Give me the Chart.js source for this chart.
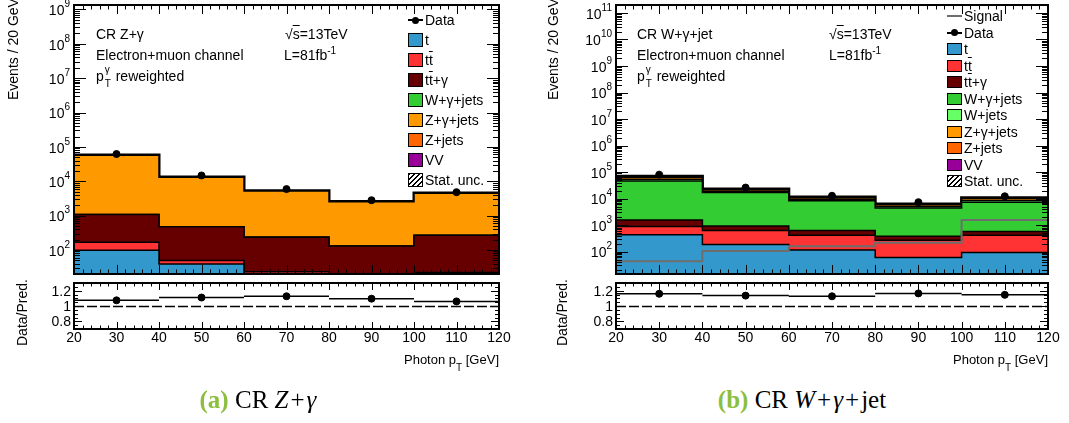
<!DOCTYPE html>
<html>
<head>
<meta charset="utf-8">
<title>CR Z+γ and CR W+γ+jet</title>
<script src="https://cdn.jsdelivr.net/npm/chart.js@4.4.1/dist/chart.umd.min.js"></script>
<style>
  body { margin: 0; background: #fff; }
  #page { position: relative; width: 1069px; height: 423px; overflow: hidden; font-family: "Liberation Sans", Arial, sans-serif; color: #000; }
  canvas { position: absolute; }
  .txt { position: absolute; font-size: 14px; line-height: 16px; white-space: nowrap; }
  .ob { text-decoration: overline; }
  .sup { font-size: 10px; position: relative; top: -6px; }
  .ptg { position: relative; display: inline-block; width: 8px; height: 1px; }
  .ptg .g { position: absolute; left: 1px; top: -15px; font-size: 10px; line-height: 10px; }
  .ptg .T { position: absolute; left: 1px; top: -1px; font-size: 10px; line-height: 10px; }
  .sub { font-size: 10px; position: relative; top: 7px; }
  .vtitle { position: absolute; width: 16px; height: 150px; writing-mode: vertical-rl; transform: rotate(180deg); font-size: 14px; line-height: 16px; white-space: nowrap; }
  .sw { position: absolute; box-sizing: border-box; border: 1.5px solid #000; }
  .caption { position: absolute; width: 300px; text-align: center; font-family: "Liberation Serif", "DejaVu Serif", serif; font-size: 25px; line-height: 28px; white-space: nowrap; }
  .caption b { color: #8cbe3f; }
  .caption .op { margin: 0 2px; }
</style>
</head>
<body>
<div id="page">
  <canvas id="zgMain" width="540" height="279" style="left:0;top:0"></canvas>
  <canvas id="zgRatio" width="540" height="95" style="left:0;top:278px"></canvas>
  <canvas id="wgMain" width="529" height="279" style="left:540px;top:0"></canvas>
  <canvas id="wgRatio" width="529" height="95" style="left:540px;top:278px"></canvas>

  <!-- panel (a) texts -->
  <div class="vtitle" style="left:5px;top:-50px">Events / 20 GeV</div>
  <div class="vtitle" style="left:14px;top:196px">Data/Pred.</div>
  <div class="txt" style="left:96px;top:26px">CR Z+γ</div>
  <div class="txt" style="left:96px;top:47px">Electron+muon channel</div>
  <div class="txt" style="left:96px;top:68px">p<span class="ptg"><span class="g">γ</span><span class="T">T</span></span> reweighted</div>
  <div class="txt" style="left:285px;top:26px">√<span class="ob">s</span>=13TeV</div>
  <div class="txt" style="left:284px;top:47px">L=81fb<span class="sup">-1</span></div>
  <div class="txt" style="right:570px;top:352px;font-size:13px">Photon p<span class="sub">T</span> [GeV]</div>
  <div class="caption" style="left:108px;top:386px"><b>(a)</b> CR <i>Z</i><span class="op">+</span><i>γ</i></div>

  <!-- panel (b) texts -->
  <div class="vtitle" style="left:545px;top:-50px">Events / 20 GeV</div>
  <div class="vtitle" style="left:554px;top:196px">Data/Pred.</div>
  <div class="txt" style="left:637px;top:26px">CR W+γ+jet</div>
  <div class="txt" style="left:637px;top:47px">Electron+muon channel</div>
  <div class="txt" style="left:637px;top:68px">p<span class="ptg"><span class="g">γ</span><span class="T">T</span></span> reweighted</div>
  <div class="txt" style="left:829px;top:26px">√<span class="ob">s</span>=13TeV</div>
  <div class="txt" style="left:829px;top:47px">L=81fb<span class="sup">-1</span></div>
  <div class="txt" style="right:21px;top:352px;font-size:13px">Photon p<span class="sub">T</span> [GeV]</div>
  <div class="caption" style="left:652px;top:386px"><b>(b)</b> CR <i>W</i><span class="op">+</span><i>γ</i><span class="op">+</span>jet</div>
</div>

<script>
const binEdges = [20, 40, 60, 80, 100, 120];
const binCenters = [30, 50, 70, 90, 110];
const xTicks = [20, 30, 40, 50, 60, 70, 80, 90, 100, 110, 120];
const ratioTicks = [0.8, 1, 1.2];

// (a) CR Z+gamma, events / 20 GeV
const zgDecades = [2, 3, 4, 5, 6, 7, 8, 9];
const zgData    = [62000, 14700, 5900, 2800, 4800];
const zgTop     = [98, 39, 10, 5, 10];
const zgTtbar   = [70, 10, 13, 8, 12];
const zgTtgamma = [900, 420, 212, 117, 245];
const zgWgamma  = [2, 1, 1, 0.5, 1];
const zgZgamma  = [56200, 12660, 4950, 2400, 4220];
const zgZjets   = [300, 70, 30, 15, 25];
const zgVV      = [150, 40, 20, 10, 15];

// (b) CR W+gamma+jet, events / 20 GeV
const wgDecades = [2, 3, 4, 5, 6, 7, 8, 9, 10, 11];
const wgData    = [80000, 26000, 12800, 7300, 12200];
const wgSignal  = [43, 105, 160, 215, 1540];
const wgTop     = [435, 185, 115, 60, 92];
const wgTtbar   = [445, 440, 295, 210, 318];
const wgTtgamma = [660, 305, 215, 110, 165];
const wgWgamma  = [44260, 16070, 7675, 4020, 6725];
const wgWjets   = [8100, 2060, 1070, 650, 1170];
const wgZgamma  = [10400, 2660, 1380, 840, 1510];
const wgZjets   = [2800, 710, 370, 225, 400];
const wgVV      = [1900, 470, 240, 155, 270];

const cTop = '#3399cc', cTtbar = '#ff3333', cTtgamma = '#660000', cWgamma = '#33cc33';
const cWjets = '#66ff66', cZgamma = '#ff9900', cZjets = '#ff6600', cVV = '#990099';

const FONT = '"Liberation Sans", Arial, sans-serif';

function logTicks(lo, hi) {
  const t = [];
  for (let d = 0; d <= 12; d++) {
    for (let m = 1; m <= 9; m++) {
      const v = m * Math.pow(10, d);
      if (v >= lo && v <= hi) t.push({v: v, major: m === 1});
    }
  }
  return t;
}

function ratioAxisTicks() {
  const t = [];
  for (let i = 70; i <= 130; i += 5) t.push({v: i / 100, major: i % 20 === 0 && i >= 80 && i <= 120});
  return t;
}

// ROOT-like frame: inward ticks on all four sides, labels outside
function rootAxes(conf) {
  return {
    id: 'rootAxes',
    beforeDatasetsDraw(chart) {
      if (!conf.unity) return;
      const {ctx, chartArea: a} = chart;
      const py = Math.round(chart.scales.y.getPixelForValue(1)) + 0.5;
      ctx.save();
      ctx.strokeStyle = '#000';
      ctx.lineWidth = 1.3;
      ctx.setLineDash([10, 3]);
      ctx.beginPath();
      ctx.moveTo(a.left, py);
      ctx.lineTo(a.right, py);
      ctx.stroke();
      ctx.restore();
    },
    afterDatasetsDraw(chart) {
      const {ctx, chartArea: a, scales: {x, y}} = chart;
      ctx.save();
      ctx.strokeStyle = '#000';
      ctx.lineWidth = 1;
      ctx.beginPath();
      for (let v = xTicks[0]; v <= xTicks[xTicks.length - 1]; v += 2) {
        const px = Math.round(x.getPixelForValue(v)) + 0.5;
        const len = v % 10 === 0 ? conf.xLen : conf.xLen / 2;
        ctx.moveTo(px, a.bottom); ctx.lineTo(px, a.bottom - len);
        ctx.moveTo(px, a.top); ctx.lineTo(px, a.top + len);
      }
      conf.yTicks.forEach(t => {
        const py = Math.round(y.getPixelForValue(t.v)) + 0.5;
        const len = t.major ? conf.yMajor : conf.yMinor;
        ctx.moveTo(a.left, py); ctx.lineTo(a.left + len, py);
        ctx.moveTo(a.right, py); ctx.lineTo(a.right - len, py);
      });
      ctx.stroke();
      ctx.lineWidth = 2;
      ctx.strokeRect(a.left, a.top, a.right - a.left, a.bottom - a.top);

      ctx.fillStyle = '#000';
      ctx.textBaseline = 'middle';
      if (conf.decades) {
        conf.decades.forEach(d => {
          const py = y.getPixelForValue(Math.pow(10, d));
          ctx.font = '10px ' + FONT;
          const exp = String(d);
          const ew = ctx.measureText(exp).width;
          ctx.textAlign = 'left';
          ctx.fillText(exp, a.left - 4 - ew, py - 5);
          ctx.font = '14px ' + FONT;
          ctx.textAlign = 'right';
          ctx.fillText('10', a.left - 4 - ew, py + 2);
        });
      }
      if (conf.ratioLabels) {
        ctx.font = '14px ' + FONT;
        ctx.textAlign = 'right';
        ratioTicks.forEach(v => ctx.fillText(String(v), a.left - 3, y.getPixelForValue(v) + 1));
      }
      if (conf.xLabels) {
        ctx.font = '14px ' + FONT;
        ctx.textAlign = 'center';
        xTicks.forEach(v => ctx.fillText(String(v), x.getPixelForValue(v), a.bottom + 9));
      }
      ctx.restore();
    }
  };
}

function chartOptions(pad, yScale) {
  return {
    responsive: false,
    animation: false,
    devicePixelRatio: 1,
    events: [],
    layout: {padding: pad},
    plugins: {legend: {display: false}, tooltip: {enabled: false}},
    scales: {
      x: {type: 'linear', min: 20, max: 120, display: false},
      y: Object.assign({display: false}, yScale)
    }
  };
}

function drawPanel(p) {
  // cumulative stack tops, bottom component first
  const cum = [];
  p.stack.forEach((c, k) => cum.push(c.values.map((v, i) => v + (k ? cum[k - 1][i] : 0))));
  const total = cum[cum.length - 1];
  const steps = vals => binEdges.map((x, i) => ({x: x, y: vals[Math.min(i, vals.length - 1)]}));

  const mainSets = [{
    data: binCenters.map((x, i) => ({x: x, y: p.data[i]})),
    showLine: false, pointRadius: 3.5,
    pointBackgroundColor: '#000', pointBorderColor: '#000', borderColor: '#000'
  }];
  if (p.signal) {
    mainSets.push({data: steps(p.signal), stepped: true, borderColor: '#6e6e6e', borderWidth: 2, pointRadius: 0, fill: false});
  }
  const base = mainSets.length;
  p.stack.forEach((c, k) => mainSets.push({
    data: steps(cum[k]),
    stepped: true,
    pointRadius: 0,
    borderColor: '#000',
    borderWidth: k === p.stack.length - 1 ? 3 : 1.5,
    backgroundColor: c.color,
    fill: k ? base + k - 1 : 'start'
  }));

  new Chart(document.getElementById(p.id + 'Main'), {
    type: 'line',
    data: {datasets: mainSets},
    options: chartOptions({left: p.left, right: p.right, top: 1, bottom: 2},
      {type: 'logarithmic', min: p.yMin, max: p.yMax}),
    plugins: [rootAxes({yTicks: logTicks(p.yMin, p.yMax), decades: p.decades, xLen: 9, yMajor: 12, yMinor: 6})]
  });

  const ratio = p.data.map((d, i) => d / total[i]);
  const bars = [];
  ratio.forEach((r, i) => {
    bars.push({x: binEdges[i], y: r}, {x: binEdges[i + 1], y: r}, {x: binEdges[i + 1], y: null});
  });

  new Chart(document.getElementById(p.id + 'Ratio'), {
    type: 'line',
    data: {datasets: [
      {data: binCenters.map((x, i) => ({x: x, y: ratio[i]})), showLine: false, pointRadius: 3.5,
       pointBackgroundColor: '#000', pointBorderColor: '#000', borderColor: '#000'},
      {data: bars, spanGaps: false, borderColor: '#000', borderWidth: 1.5, pointRadius: 0}
    ]},
    options: chartOptions({left: p.left, right: p.right, top: 2, bottom: 44},
      {type: 'linear', min: 0.7, max: 1.3}),
    plugins: [rootAxes({yTicks: ratioAxisTicks(), ratioLabels: true, xLabels: true, unity: true, xLen: 7, yMajor: 8, yMinor: 4})]
  });
}

function legend(entries, x, y0, dy, boxH) {
  const page = document.getElementById('page');
  entries.forEach((e, i) => {
    const cy = y0 + dy * i;
    if (e.kind === 'box' || e.kind === 'hatch') {
      const b = document.createElement('div');
      b.className = 'sw';
      b.style.cssText = `left:${x}px;top:${cy - boxH / 2}px;width:15px;height:${boxH}px;` +
        (e.kind === 'hatch' ? 'background:repeating-linear-gradient(135deg,#000 0 1px,#fff 1px 3.5px);' : `background:${e.color};`);
      page.appendChild(b);
    } else {
      const l = document.createElement('div');
      l.style.cssText = `position:absolute;left:${x}px;top:${cy - 1}px;width:15px;height:2px;background:${e.color};`;
      page.appendChild(l);
      if (e.kind === 'data') {
        const d = document.createElement('div');
        d.style.cssText = `position:absolute;left:${x + 4}px;top:${cy - 3.5}px;width:7px;height:7px;border-radius:50%;background:#000;`;
        page.appendChild(d);
      }
    }
    const t = document.createElement('div');
    t.className = 'txt';
    t.style.cssText = `left:${x + 17}px;top:${cy - 8}px;`;
    t.innerHTML = e.label;
    page.appendChild(t);
  });
}

drawPanel({
  id: 'zg', left: 74, right: 41, yMin: 19.9, yMax: 1.35e9, decades: zgDecades,
  data: zgData,
  stack: [
    {values: zgTop, color: cTop},
    {values: zgTtbar, color: cTtbar},
    {values: zgTtgamma, color: cTtgamma},
    {values: zgWgamma, color: cWgamma},
    {values: zgZgamma, color: cZgamma},
    {values: zgZjets, color: cZjets},
    {values: zgVV, color: cVV}
  ]
});

drawPanel({
  id: 'wg', left: 76, right: 21, yMin: 14.3, yMax: 2.0e11, decades: wgDecades,
  data: wgData, signal: wgSignal,
  stack: [
    {values: wgTop, color: cTop},
    {values: wgTtbar, color: cTtbar},
    {values: wgTtgamma, color: cTtgamma},
    {values: wgWgamma, color: cWgamma},
    {values: wgWjets, color: cWjets},
    {values: wgZgamma, color: cZgamma},
    {values: wgZjets, color: cZjets},
    {values: wgVV, color: cVV}
  ]
});

const TT = 't<span class="ob">t</span>';
legend([
  {kind: 'data', color: '#000', label: 'Data'},
  {kind: 'box', color: cTop, label: 't'},
  {kind: 'box', color: cTtbar, label: TT},
  {kind: 'box', color: cTtgamma, label: TT + '+γ'},
  {kind: 'box', color: cWgamma, label: 'W+γ+jets'},
  {kind: 'box', color: cZgamma, label: 'Z+γ+jets'},
  {kind: 'box', color: cZjets, label: 'Z+jets'},
  {kind: 'box', color: cVV, label: 'VV'},
  {kind: 'hatch', label: 'Stat. unc.'}
], 408, 20, 20, 14);

legend([
  {kind: 'line', color: '#6e6e6e', label: 'Signal'},
  {kind: 'data', color: '#000', label: 'Data'},
  {kind: 'box', color: cTop, label: 't'},
  {kind: 'box', color: cTtbar, label: TT},
  {kind: 'box', color: cTtgamma, label: TT + '+γ'},
  {kind: 'box', color: cWgamma, label: 'W+γ+jets'},
  {kind: 'box', color: cWjets, label: 'W+jets'},
  {kind: 'box', color: cZgamma, label: 'Z+γ+jets'},
  {kind: 'box', color: cZjets, label: 'Z+jets'},
  {kind: 'box', color: cVV, label: 'VV'},
  {kind: 'hatch', label: 'Stat. unc.'}
], 947, 16, 16.5, 12);
</script>
</body>
</html>
